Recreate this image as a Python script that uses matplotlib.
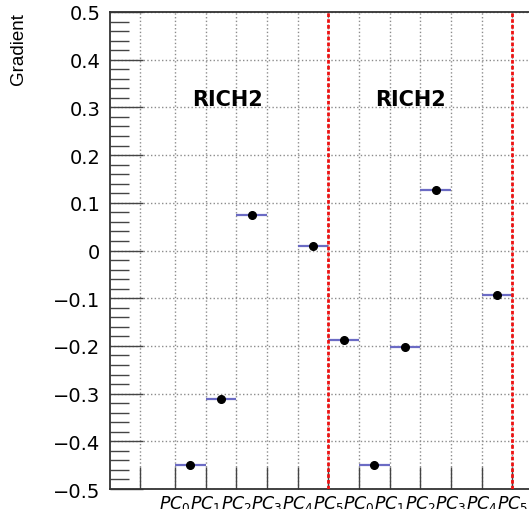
import matplotlib.pyplot as plt
from matplotlib.ticker import MultipleLocator

# bin index (left edge) and gradient value per point
bins = [0, 1, 2, 4, 5, 6, 7, 8, 10]
gradient = [-0.449, -0.311, 0.074, 0.010, -0.187, -0.449, -0.203, 0.127, -0.093]

pc_labels = [r"$PC_{\mathit{%d}}$" % i for i in range(6)] * 2
group_title = "RICH2"
group_title_x = [1.71, 7.69]
separators = [5, 11]

plt.rcParams["mathtext.fontset"] = "dejavusans"

fig = plt.figure(figsize=(5.29, 5.10), dpi=100)
ax = fig.add_axes([110 / 529, 20 / 510, 450 / 529, 477 / 510])

ax.set_xlim(-2.12, 12.56)
ax.set_ylim(-0.5, 0.5)

# grid
xt = [-1.14] + list(range(12))
ax.set_xticks(xt)
ax.set_xticklabels([""] + pc_labels, fontsize=12.5)
ax.yaxis.set_major_locator(MultipleLocator(0.1))
ax.yaxis.set_minor_locator(MultipleLocator(0.02))
ax.grid(True, which="major", ls=":", color="#8c8c8c", lw=1)
ax.set_axisbelow(True)

ax.tick_params(axis="y", which="major", direction="in", length=24, width=1,
               labelsize=14, pad=7, color="#444444")
ax.tick_params(axis="y", which="minor", direction="in", length=14, width=1,
               color="#444444")
ax.tick_params(axis="x", which="major", direction="in", length=16, width=1,
               pad=3, color="#444444")
ax.set_yticklabels([("%.1f" % v).replace("-", "\u2212") if abs(v) > 1e-9 else "0"
                    for v in ax.get_yticks()])

for s in ax.spines.values():
    s.set_color("#333333")
    s.set_linewidth(1.3)

# bin widths and points
ax.hlines(gradient, bins, [b + 1 for b in bins], color="#6b6bc4", lw=1.6, zorder=3)
ax.plot([b + 0.5 for b in bins], gradient, "o", color="black", ms=5.5, zorder=4)

for sx in separators:
    ax.axvline(sx, color="#ee1111", ls=(0, (1.3, 0.8)), lw=2, zorder=5)

for tx in group_title_x:
    ax.text(tx, 0.318, group_title, fontsize=15, fontweight="bold",
            ha="center", va="center")

fig.text(19 / 529, 1 - 13 / 510, "Gradient", rotation=90, ha="center",
         va="top", fontsize=13.5, family="Liberation Sans")

fig.savefig("out.png", dpi=100)
